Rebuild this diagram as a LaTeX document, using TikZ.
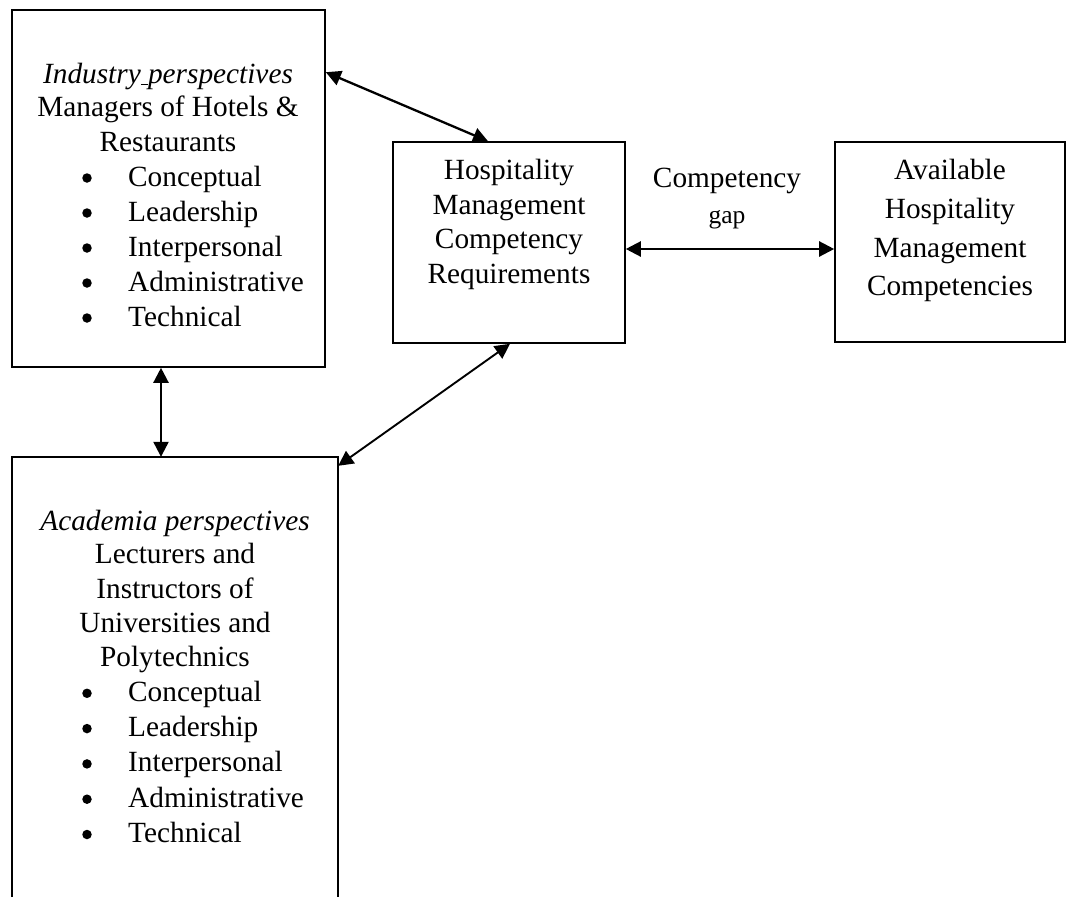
\documentclass[tikz,border=0pt]{standalone}
\usepackage{fontspec}
\setmainfont{Liberation Serif}
\usetikzlibrary{arrows.meta}
\begin{document}
\begin{tikzpicture}[x=1pt,y=-1pt,
  box/.style={draw=black,line width=1.6pt,rectangle,inner sep=0pt},
  openbox/.style={draw=none,rectangle,inner sep=0pt},
  txt/.style={anchor=base,inner sep=0pt,font=\fontsize{29.3}{35}\selectfont},
  item/.style={anchor=base west,inner sep=0pt,font=\fontsize{29.3}{35}\selectfont},
  dot/.style={circle,fill=black,inner sep=0pt,minimum size=9.5pt},
  conn/.style={line width=2.3pt,{Triangle[length=15pt,width=15pt]}-{Triangle[length=15pt,width=15pt]}}]
\useasboundingbox (0,0) rectangle (1068,897);
% boxes
\node[box,minimum width=313pt,minimum height=357pt] (ind) at (168.5,188.5) {};
\node[box,minimum width=232pt,minimum height=201pt] (hosp) at (509,242.5) {};
\node[box,minimum width=230pt,minimum height=200pt] (avail) at (950,242) {};
\node[openbox,minimum width=326pt,minimum height=440pt] (acad) at (175,677) {};
\draw[line width=1.6pt] (acad.south west) -- (acad.north west) -- (acad.north east) -- (acad.south east);
% industry text
\node[txt] (i1) at (168,83) {\itshape Industry\underline{\ }perspectives};
\node[txt] (i2) at (168,116) {Managers of Hotels \&};
\node[txt] (i3) at (168,151) {Restaurants};
\foreach \t [count=\k] in {Conceptual,Leadership,Interpersonal,Administrative,Technical}{
  \node[dot] (ib\k) at (87,143+35*\k) {};
  \node[item] (it\k) at (128,151+35*\k) {\t};
}
% hospitality text
\node[txt] (h1) at (509,179) {Hospitality};
\node[txt] (h2) at (509,214) {Management};
\node[txt] (h3) at (509,248) {Competency};
\node[txt] (h4) at (509,283) {Requirements};
% available text
\node[txt] (a1) at (950,179) {Available};
\node[txt] (a2) at (950,218) {Hospitality};
\node[txt] (a3) at (950,257) {Management};
\node[txt] (a4) at (950,295) {Competencies};
% gap label
\node[txt] (g1) at (727,187) {Competency};
\node[txt,font=\fontsize{25.5}{30}\selectfont] (g2) at (727,223) {gap};
% academia text
\node[txt] (c1) at (175,530) {\itshape Academia perspectives};
\node[txt] (c2) at (175,563) {Lecturers and};
\node[txt] (c3) at (175,598) {Instructors of};
\node[txt] (c4) at (175,632) {Universities and};
\node[txt] (c5) at (175,666) {Polytechnics};
\foreach \t [count=\k] in {Conceptual,Leadership,Interpersonal,Administrative,Technical}{
  \node[dot] (cb\k) at (87,658+35.3*\k) {};
  \node[item] (ct\k) at (128,666+35.3*\k) {\t};
}
% connectors
\draw[conn] ([yshift=-63pt]ind.north east) -- ([xshift=-21pt]hosp.north);
\draw[conn] ([yshift=-6.5pt]hosp.east) -- ([yshift=-7pt]avail.west);
\draw[conn] ([xshift=-7.5pt]ind.south) -- ([xshift=-14pt]acad.north);
\draw[conn,line width=1.9pt] ([xshift=1pt]hosp.south) -- ([yshift=-9pt]acad.north east);
\end{tikzpicture}
\end{document}
